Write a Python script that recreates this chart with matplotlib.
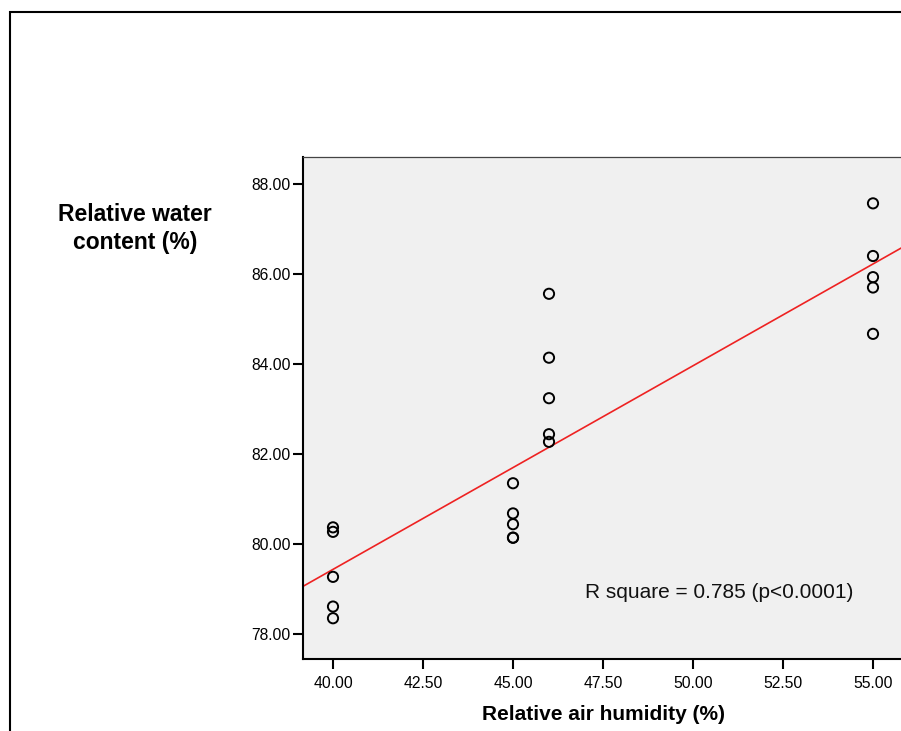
import numpy as np
import matplotlib
matplotlib.use("Agg")
import matplotlib.pyplot as plt
from matplotlib.patches import Rectangle

plt.rcParams['font.family'] = ['Liberation Sans', 'DejaVu Sans']

# Data
humidity = [40, 40, 40, 40, 40,
            45, 45, 45, 45, 45,
            46, 46, 46, 46, 46,
            55, 55, 55, 55, 55]
water = [80.37, 80.27, 79.27, 78.61, 78.35,
         81.35, 80.68, 80.44, 80.14, 80.14,
         85.56, 84.14, 83.24, 82.44, 82.27,
         87.57, 86.40, 85.93, 85.70, 84.67]
xticks = [40.0, 42.5, 45.0, 47.5, 50.0, 52.5, 55.0]
yticks = [78.0, 80.0, 82.0, 84.0, 86.0, 88.0]
annotation = "R square = 0.785 (p<0.0001)"
xlabel = "Relative air humidity (%)"
ylabel = "Relative water\ncontent (%)"

W, H = 901, 731
fig = plt.figure(figsize=(W / 100, H / 100), dpi=100)

# outer frame (cropped at right and bottom)
fig.add_artist(Rectangle((10 / W, -0.5), 2.0, 1 - 12 / H + 0.5,
                         transform=fig.transFigure, fill=False,
                         edgecolor='black', linewidth=1.5, clip_on=False))

left, right, top, bottom = 303 / W, 1.0, 1 - 157 / H, 1 - 659 / H
ax = fig.add_axes([left, bottom, right - left, top - bottom])
ax.set_facecolor('#f0f0f0')

xmin = 40 - 30 / 36
xmax = 55 + 28 / 36
ymin = 78 - 25 / 45
ymax = 88 + 27 / 45
ax.set_xlim(xmin, xmax)
ax.set_ylim(ymin, ymax)

x = np.array(humidity, dtype=float)
y = np.array(water, dtype=float)
slope, intercept = np.polyfit(x, y, 1)
xs = np.array([xmin, xmax])
ax.plot(xs, intercept + slope * xs, color='#ee2222', linewidth=1.2, zorder=2)

ax.scatter(x, y, s=54, facecolors='none', edgecolors='black',
           linewidths=1.4, zorder=3)

ax.set_xticks(xticks)
ax.set_xticklabels([f"{v:.2f}" for v in xticks])
ax.set_yticks(yticks)
ax.set_yticklabels([f"{v:.2f}" for v in yticks])
ax.tick_params(axis='both', direction='out', length=7, width=1.5,
               labelsize=11.3, colors='black', pad=2)
ax.tick_params(axis='x', pad=5)

for s in ['left', 'bottom']:
    ax.spines[s].set_linewidth(1.5)
    ax.spines[s].set_color('black')
ax.spines['top'].set_color('#444444')
ax.spines['top'].set_linewidth(0.9)
ax.spines['right'].set_visible(False)

ax.text(47.0, 78.93, annotation, fontsize=15, ha='left', va='center',
        color='#111111')

fig.text(604 / W, 1 - 714 / H, xlabel, ha='center', va='center',
         fontsize=15, fontweight='bold')
fig.text(135 / W, 1 - 228.5 / H, ylabel, ha='center', va='center',
         fontsize=16.5, fontweight='bold', multialignment='center',
         linespacing=1.28)

fig.savefig('out.png', dpi=100)
